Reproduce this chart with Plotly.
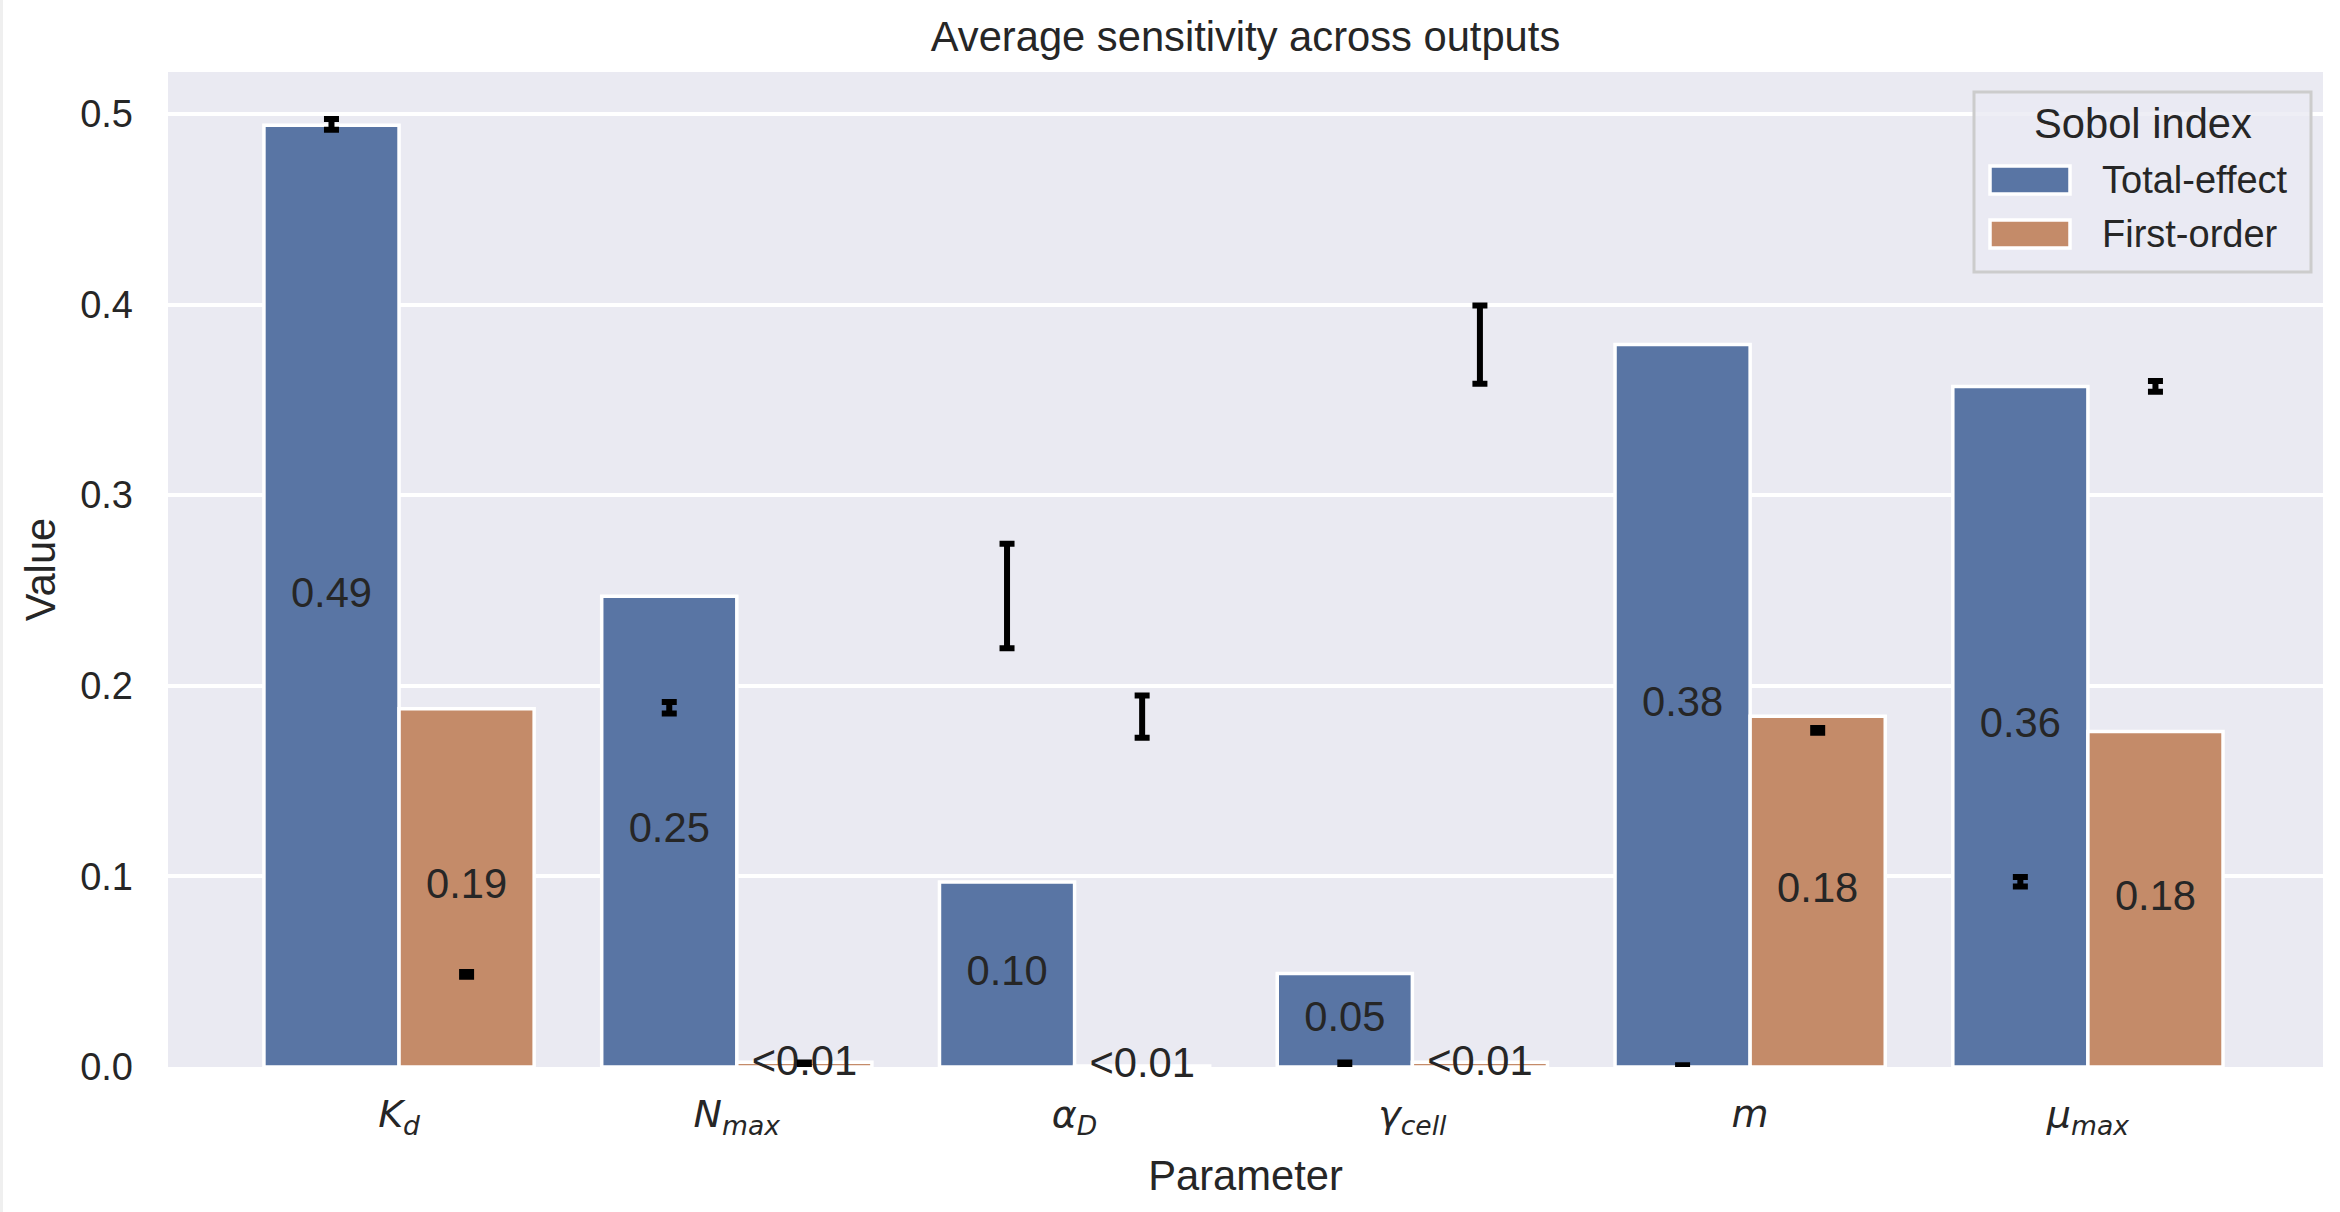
import plotly.graph_objects as go

# ---- data ----
parameters = ["<i>K</i><sub><i>d</i></sub>", "<i>N</i><sub><i>max</i></sub>",
              "<i>α</i><sub><i>D</i></sub>", "<i>γ</i><sub><i>cell</i></sub>",
              "<i>m</i>", "<i>μ</i><sub><i>max</i></sub>"]
series_names = ["Total-effect", "First-order"]
total_effect = [0.494, 0.247, 0.097, 0.049, 0.379, 0.357]
first_order = [0.188, 0.0025, 0.0005, 0.0025, 0.184, 0.176]

# error bars as drawn in the reference (centre and half-length at each bar slot)
err_center_total = [0.4945, 0.1885, 0.2471, 0.0016, 0.0003, 0.0972]
err_half_total = [0.0028, 0.0030, 0.0274, 0.0008, 0.0006, 0.0025]
err_center_first = [0.0486, 0.0015, 0.1838, 0.3790, 0.1766, 0.3571]
err_half_first = [0.0013, 0.0008, 0.0111, 0.0205, 0.0012, 0.0028]

y_ticks = [0.0, 0.1, 0.2, 0.3, 0.4, 0.5]
colors = ["#5975A4", "#C48B69"]

# ---- figure ----
W, H = 2340, 1212
ML, MR, MT, MB = 168, 17, 72, 145
TXT = "#262626"
FONT = "Liberation Sans, Arial, sans-serif"

idx = list(range(len(parameters)))
bar_w = 0.4
fig = go.Figure()

series = [total_effect, first_order]
err_c = [err_center_total, err_center_first]
err_h = [err_half_total, err_half_first]
for k, (name, vals) in enumerate(zip(series_names, series)):
    fig.add_trace(go.Bar(
        x=idx, y=vals, name=name, width=bar_w,
        marker=dict(color=colors[k], line=dict(color="white", width=3.5)),
        showlegend=False, hoverinfo="skip"))

for k, vals in enumerate(series):
    off = (k - 0.5) * bar_w
    xs = [i + off for i in idx]
    labels = ["<0.01" if v < 0.01 else f"{v:.2f}" for v in vals]
    fig.add_trace(go.Scatter(
        x=xs, y=[v / 2 for v in vals], mode="text", text=labels,
        textposition="middle center",
        textfont=dict(size=41.7, color=TXT, family=FONT),
        cliponaxis=False, showlegend=False, hoverinfo="skip"))

for k in range(2):
    off = (k - 0.5) * bar_w
    xs = [i + off for i in idx]
    fig.add_trace(go.Scatter(
        x=xs, y=err_c[k], mode="markers",
        marker=dict(size=1, color="rgba(0,0,0,0)"),
        error_y=dict(type="data", array=err_h[k], visible=True,
                     color="black", thickness=6, width=7.5),
        showlegend=False, hoverinfo="skip"))

fig.update_layout(
    width=W, height=H,
    margin=dict(l=ML, r=MR, t=MT, b=MB, pad=0),
    paper_bgcolor="white", plot_bgcolor="#EAEAF2",
    barmode="group", bargap=0.2, bargroupgap=0,
    font=dict(family=FONT, color=TXT, size=38),
    title=dict(text="Average sensitivity across outputs", x=0.5, xref="paper",
               y=1 - 36 / H, yanchor="middle", xanchor="center",
               font=dict(size=41.7, color=TXT, family=FONT)),
    xaxis=dict(range=[-0.684, 5.696], tickvals=idx, ticktext=parameters,
               showgrid=False, zeroline=False, showline=False, ticks="",
               tickfont=dict(family="DejaVu Sans", size=38, color=TXT),
               ticklabelstandoff=21,
               title=dict(text="Parameter", standoff=20,
                          font=dict(size=41.7, color=TXT, family=FONT))),
    yaxis=dict(range=[0, 0.522], tickvals=y_ticks,
               ticktext=[f"{t:.1f}" for t in y_ticks],
               showgrid=True, gridcolor="white", gridwidth=3.5,
               zeroline=False, showline=False, ticks="",
               tickfont=dict(size=38, color=TXT, family=FONT),
               ticklabelstandoff=34,
               title=dict(text="Value", standoff=11,
                          font=dict(size=41.7, color=TXT, family=FONT))),
)

# ---- legend (drawn to match matplotlib's legend frame and patches) ----
PW = W - ML - MR
PH = H - MT - MB


def px(X):
    return (X - ML) / PW


def py(Y):
    return (H - MB - Y) / PH


# thin light strip at the very left edge of the reference image
fig.add_shape(type="rect", xref="paper", yref="paper",
              x0=px(0), x1=px(3), y0=py(H), y1=py(0),
              fillcolor="#EFEFEF", line=dict(width=0), layer="below")

fig.add_shape(type="rect", xref="paper", yref="paper",
              x0=px(1974), x1=px(2311), y0=py(272), y1=py(92),
              fillcolor="rgba(234,234,242,0.8)",
              line=dict(color="#CCCCCC", width=3), layer="above")
fig.add_annotation(text="Sobol index", xref="paper", yref="paper",
                   x=px(2143), y=py(123), xanchor="center", yanchor="middle",
                   showarrow=False, font=dict(size=41.7, color=TXT, family=FONT))
row_y = [180, 234]
for k, name in enumerate(series_names):
    fig.add_shape(type="rect", xref="paper", yref="paper",
                  x0=px(1990), x1=px(2070), y0=py(row_y[k] + 14), y1=py(row_y[k] - 14),
                  fillcolor=colors[k], line=dict(color="white", width=3.5),
                  layer="above")
    fig.add_annotation(text=name, xref="paper", yref="paper",
                       x=px(2100), y=py(row_y[k]), xanchor="left", yanchor="middle",
                       showarrow=False, font=dict(size=38, color=TXT, family=FONT))

fig.write_html("out.html",
               config={"displayModeBar": False},
               post_script="document.body.style.margin='0';"
                           "document.body.style.overflow='hidden';")
